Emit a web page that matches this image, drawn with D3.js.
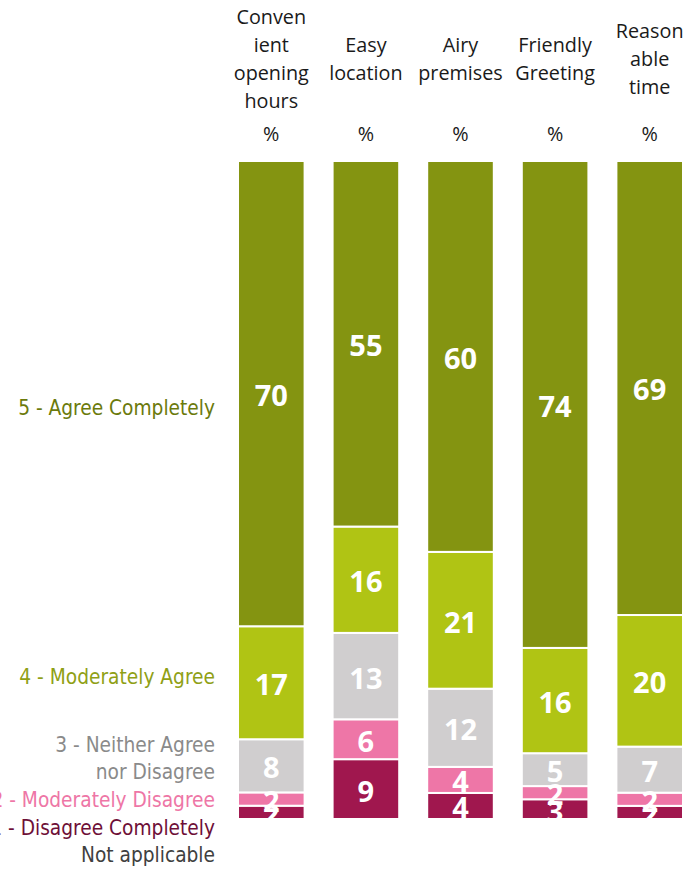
<!DOCTYPE html>
<html>
<head>
<meta charset="utf-8">
<script src="https://cdn.jsdelivr.net/npm/d3@7"></script>
<style>
  html, body { margin: 0; padding: 0; background: #ffffff; }
  svg { display: block; }
</style>
</head>
<body>
<svg id="chart" width="694" height="869"></svg>
<script>
// Survey categories (column headers, wrapped as shown)
const categories = ["Convenient opening hours", "Easy location", "Airy premises", "Friendly Greeting", "Reasonable time"];
const headerLines = [
  ["Conven", "ient", "opening", "hours"],
  ["Easy", "location"],
  ["Airy", "premises"],
  ["Friendly", "Greeting"],
  ["Reason", "able", "time"]
];

// Response scale, bottom of the stack first
const responses = ["Not applicable", "1 - Disagree Completely", "2 - Moderately Disagree",
                   "3 - Neither Agree nor Disagree", "4 - Moderately Agree", "5 - Agree Completely"];

// Percentages per category for each response
const notApplicable      = [0, 0, 0, 0, 0];
const disagreeCompletely = [2, 9, 4, 3, 2];
const moderatelyDisagree = [2, 6, 4, 2, 2];
const neitherAgree       = [8, 13, 12, 5, 7];
const moderatelyAgree    = [17, 16, 21, 16, 20];
const agreeCompletely    = [70, 55, 60, 74, 69];

const seriesValues = [notApplicable, disagreeCompletely, moderatelyDisagree,
                      neitherAgree, moderatelyAgree, agreeCompletely];

const fillColors = ["#7f7f7f", "#a0174e", "#ee76a7", "#d0cecf", "#b0c414", "#849411"];
const legendColors = ["#404040", "#6e0f37", "#ee76a6", "#8a8a8a", "#8fa015", "#6b7a0c"];

// Table for d3.stack
const rows = categories.map((c, i) => {
  const r = { category: c };
  responses.forEach((k, j) => { r[k] = seriesValues[j][i]; });
  return r;
});

const svg = d3.select("#chart");

const x = d3.scaleBand()
  .domain(categories)
  .range([238, 683])
  .paddingInner(0.296)
  .paddingOuter(0);

const y = d3.scaleLinear().domain([0, 1]).range([819, 161]);

const stack = d3.stack().keys(responses).offset(d3.stackOffsetExpand);
const layers = stack(rows);

// Column headers
const headerFont = "'Open Sans', 'Liberation Sans', sans-serif";
const headerSize = 19.8;
categories.forEach((c, i) => {
  const lines = headerLines[i];
  const lh = 28;
  const cy = 59;
  const cx = x(c) + x.bandwidth() / 2;
  const t = svg.append("text")
    .attr("x", cx)
    .attr("text-anchor", "middle")
    .attr("font-family", headerFont)
    .attr("font-size", headerSize)
    .attr("fill", "#1a1a1a");
  lines.forEach((ln, k) => {
    t.append("tspan")
      .attr("x", cx)
      .attr("y", cy + (k - (lines.length - 1) / 2) * lh)
      .attr("dy", "0.35em")
      .text(ln);
  });
  svg.append("text")
    .attr("x", cx)
    .attr("y", 134)
    .attr("dy", "0.35em")
    .attr("text-anchor", "middle")
    .attr("font-family", headerFont)
    .attr("font-size", headerSize)
    .attr("fill", "#1a1a1a")
    .text("%");
});

// Stacked segments
const g = svg.append("g");
layers.forEach((layer, j) => {
  g.selectAll(null)
    .data(layer.filter(d => d[1] - d[0] > 0))
    .join("rect")
    .attr("x", d => x(d.data.category))
    .attr("width", x.bandwidth())
    .attr("y", d => y(d[1]))
    .attr("height", d => y(d[0]) - y(d[1]))
    .attr("fill", fillColors[j])
    .attr("stroke", "#ffffff")
    .attr("stroke-width", 2);
});

// Value labels, clipped to the plot area
svg.append("clipPath").attr("id", "plotClip")
  .append("rect").attr("x", 0).attr("y", 0).attr("width", 694).attr("height", 820);

const lbl = svg.append("g").attr("clip-path", "url(#plotClip)");
layers.forEach((layer, j) => {
  lbl.selectAll(null)
    .data(layer.filter(d => d.data[responses[j]] > 0))
    .join("text")
    .attr("x", d => x(d.data.category) + x.bandwidth() / 2)
    .attr("y", d => (y(d[0]) + y(d[1])) / 2 + 2)
    .attr("dy", "0.36em")
    .attr("text-anchor", "middle")
    .attr("font-family", "'Open Sans', 'Liberation Sans', sans-serif")
    .attr("font-weight", "bold")
    .attr("font-size", 29)
    .attr("fill", "#ffffff")
    .text(d => d.data[responses[j]]);
});

// Legend on the left, right-aligned
const legendLines = [
  { lines: ["Not applicable"], y: [855] },
  { lines: ["1 - Disagree Completely"], y: [828] },
  { lines: ["2 - Moderately Disagree"], y: [800] },
  { lines: ["3 - Neither Agree", "nor Disagree"], y: [745, 772] },
  { lines: ["4 - Moderately Agree"], y: [677] },
  { lines: ["5 - Agree Completely"], y: [408] }
];
legendLines.forEach((item, j) => {
  item.lines.forEach((ln, k) => {
    svg.append("text")
      .attr("x", 215)
      .attr("y", item.y[k])
      .attr("dy", "0.35em")
      .attr("text-anchor", "end")
      .attr("font-family", "'DejaVu Sans Condensed', 'DejaVu Sans', sans-serif")
      .attr("font-stretch", "condensed")
      .attr("font-size", 20.7)
      .attr("fill", legendColors[j])
      .text(ln);
  });
});
</script>
</body>
</html>
